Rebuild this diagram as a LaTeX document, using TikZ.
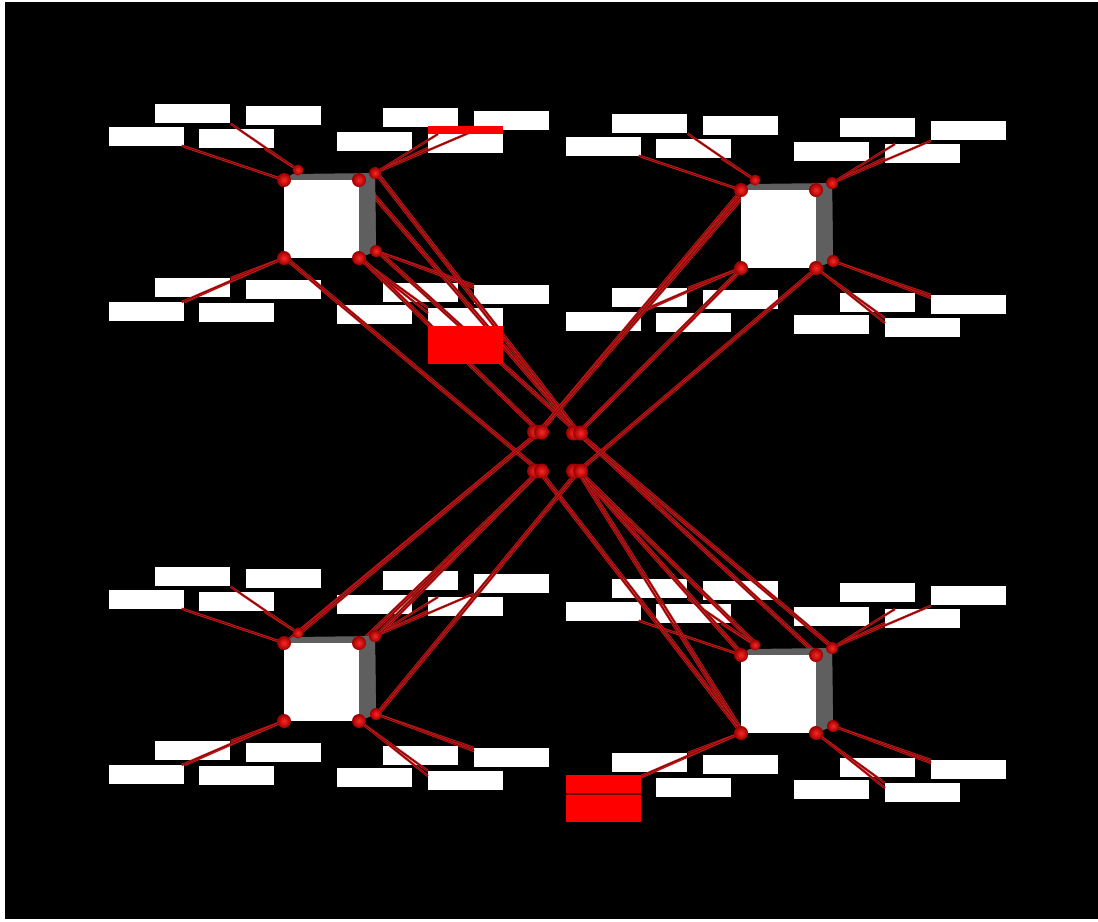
\documentclass[tikz,border=0pt]{standalone}
\usetikzlibrary{calc}
\definecolor{wirered}{RGB}{205,25,25}
\definecolor{wirecore}{RGB}{110,10,10}
\definecolor{cubegray}{RGB}{95,95,95}
\tikzset{
  lab/.style={fill=white, draw=none, inner sep=0pt, minimum width=1.5cm, minimum height=0.38cm, anchor=north west},
  redlab/.style={fill=red, draw=none, inner sep=0pt, anchor=north west, minimum width=1.5cm},
  wire/.style={draw=wirered, line width=0.45pt, double=wirecore, double distance=0.45pt},
  bigball/.style={inner color=red!85!white, outer color=red!60!black},
}
\newcommand{\clusterdef}[3]{%
  \begin{scope}[shift={(#2,#3)}]
    \coordinate (#1F1) at (0,0);
    \coordinate (#1F2) at (75,0);
    \coordinate (#1F3) at (0,78);
    \coordinate (#1F4) at (75,78);
    \coordinate (#1B1) at (14,-10);
    \coordinate (#1B2) at (91,-7);
    \coordinate (#1B4) at (92,71);
    \node[lab] (#1L1) at (-129,-76) {};
    \node[lab] (#1L2) at (-38,-74) {};
    \node[lab] (#1L3) at (-175,-53) {};
    \node[lab] (#1L4) at (-85,-51) {};
    \node[lab] (#1L5) at (99,-72) {};
    \node[lab] (#1L6) at (190,-69) {};
    \node[lab] (#1L7) at (53,-48) {};
    \node[lab] (#1L8) at (144,-46) {};
    \node[lab] (#1L9) at (-129,98) {};
    \node[lab] (#1L10) at (-38,100) {};
    \node[lab] (#1L11) at (-175,122) {};
    \node[lab] (#1L12) at (-85,123) {};
    \node[lab] (#1L13) at (99,103) {};
    \node[lab] (#1L14) at (190,105) {};
    \node[lab] (#1L15) at (53,125) {};
    \node[lab] (#1L16) at (144,128) {};
  \end{scope}}
\newcommand{\clusterwires}[1]{%
  \draw[wire] (#1F1) -- (#1L3.south east);
  \draw[wire] (#1F1) -- ([xshift=-0.06cm,yshift=0.02cm]#1L3.south east);
  \draw[wire] (#1B1) -- ([xshift=-0.2cm]#1L4.south east);
  \draw[wire] (#1B1) -- (#1L1.south east);
  \draw[wire] (#1B2) -- ([yshift=-0.08cm]#1L8.west);
  \draw[wire] (#1B2) -- (#1L6.south west);
  \draw[wire] (#1B2) -- ([xshift=0.2cm]#1L8.north west);
  \draw[wire] (#1F3) -- (#1L9.north east);
  \draw[wire] (#1F3) -- (#1L11.north east);
  \draw[wire] (#1F3) -- ([xshift=-0.06cm]#1L11.north east);
  \draw[wire] (#1F4) -- (#1L16.north west);
  \draw[wire] (#1F4) -- ([yshift=-0.1cm]#1L16.north west);
  \draw[wire] (#1B4) -- (#1L14.north west);
  \draw[wire] (#1B4) -- ([yshift=-0.06cm]#1L14.north west);}
\newcommand{\clustercube}[1]{%
  \fill[cubegray] (#1F1) -- ($(#1F1)!0.6!(#1B1)$) -- (#1B2) -- (#1B4) -- (#1F4) -- cycle;
  \fill[cubegray] (#1F2) -- (#1B2) -- (#1B4) -- (#1F4) -- cycle;
  \fill[white] (#1F1) rectangle (#1F4);
  \shade[bigball] (#1B1) circle[radius=0.11cm];
  \shade[bigball] (#1B2) circle[radius=0.12cm];
  \shade[bigball] (#1B4) circle[radius=0.12cm];
  \shade[bigball] (#1F1) circle[radius=0.14cm];
  \shade[bigball] (#1F2) circle[radius=0.14cm];
  \shade[bigball] (#1F3) circle[radius=0.14cm];
  \shade[bigball] (#1F4) circle[radius=0.14cm];}
\newcommand{\link}[2]{%
  \draw[wire] (#1) -- (#2);
  \draw[wire] ([xshift=0.06cm]#1) -- ([xshift=0.06cm]#2);}
\begin{document}
\begin{tikzpicture}[x=0.02cm,y=-0.02cm]
\useasboundingbox (0,0) rectangle (1098,921);
\fill[white] (0,0) rectangle (1098,921);
\fill[black] (5,2) rectangle (1098,919);
% clusters: label boxes and corner points
\clusterdef{tl}{284}{180}
\clusterdef{tr}{741}{190}
\clusterdef{bl}{284}{643}
\clusterdef{br}{741}{655}
% central nodes
\coordinate (C1) at (538,432);
\coordinate (C2) at (577,433);
\coordinate (C3) at (538,471);
\coordinate (C4) at (577,471);
% wires to labels
\clusterwires{tl}
\clusterwires{tr}
\clusterwires{bl}
\clusterwires{br}
% long wires through the centre
\link{tlF4}{C1}
\link{tlF3}{C3}
\link{tlF2}{C2}
\link{tlB2}{C2}
\link{tlB4}{C2}
\link{C4}{brF1}
\link{C4}{brB1}
\link{C4}{brF3}
\link{C3}{brF3}
\link{C2}{brF2}
\link{C2}{brB2}
\link{trF1}{C1}
\link{trB1}{C1}
\link{trF3}{C2}
\link{trF4}{C4}
\link{C1}{blF1}
\link{C1}{blB1}
\link{C3}{blB2}
\link{C3}{blF2}
\link{C4}{blB4}
% red label boxes
\node[redlab, minimum height=0.16cm] (tlR1) at (428,126) {};
\node[redlab, minimum height=0.76cm] (tlR2) at (428,326) {};
\node[redlab, minimum height=0.94cm] (brR1) at (566,775) {};
\draw[red!45!black, line width=0.6pt] (brR1.west |- 0,794) -- (brR1.east |- 0,794);
% cubes with corner spheres
\clustercube{tl}
\clustercube{tr}
\clustercube{bl}
\clustercube{br}
% central spheres
\foreach \c in {C1,C2,C3,C4}{
  \shade[bigball] ([xshift=-0.07cm]\c) circle[radius=0.15cm];
  \shade[bigball] ([xshift=0.07cm]\c) circle[radius=0.15cm];
}
\end{tikzpicture}
\end{document}
